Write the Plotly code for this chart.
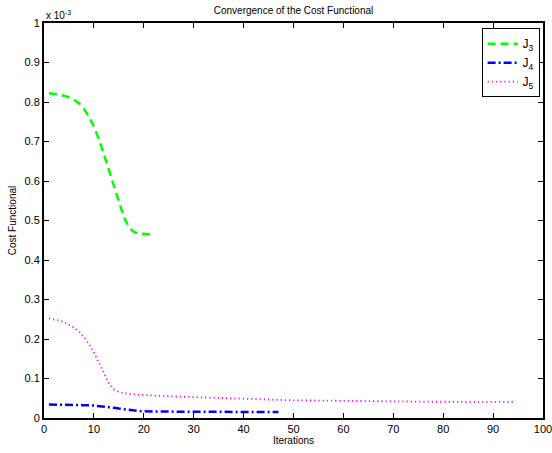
import plotly.graph_objects as go

# Values in units of 1e-3
iters_j3 = list(range(1, 23))
j3 = [0.822, 0.821, 0.819, 0.816, 0.812, 0.806, 0.797, 0.783, 0.763, 0.738, 0.706,
      0.668, 0.627, 0.585, 0.545, 0.509, 0.484, 0.471, 0.467, 0.466, 0.465, 0.465]

iters_j4 = list(range(1, 48))
j4 = [0.034, 0.034, 0.034, 0.0338, 0.0336, 0.0334, 0.0331, 0.0327, 0.0322, 0.0315,
      0.0305, 0.0292, 0.0276, 0.0258, 0.0238, 0.0218, 0.0200, 0.0186, 0.0176, 0.0170,
      0.0166, 0.0164, 0.0162, 0.0161, 0.0160, 0.0159, 0.0159, 0.0158, 0.0158, 0.0157,
      0.0157, 0.0156, 0.0156, 0.0156, 0.0155, 0.0155, 0.0155, 0.0154, 0.0154, 0.0154,
      0.0153, 0.0153, 0.0153, 0.0153, 0.0152, 0.0152, 0.0152]

iters_j5 = list(range(1, 95))
j5 = [0.252, 0.250, 0.247, 0.243, 0.237, 0.229, 0.219, 0.205, 0.188, 0.166,
      0.140, 0.112, 0.088, 0.073, 0.066, 0.063, 0.061, 0.060, 0.059, 0.058,
      0.057, 0.0565, 0.056, 0.0555, 0.055, 0.0545, 0.054, 0.0535, 0.053, 0.0525,
      0.052, 0.0515, 0.051, 0.0505, 0.050, 0.0496, 0.0492, 0.0488, 0.0484, 0.048,
      0.0476, 0.0472, 0.0469, 0.0466, 0.0463, 0.046, 0.0457, 0.0454, 0.0451, 0.0448,
      0.0446, 0.0444, 0.0442, 0.044, 0.0438, 0.0436, 0.0434, 0.0432, 0.043, 0.0429,
      0.0428, 0.0427, 0.0426, 0.0425, 0.0424, 0.0423, 0.0422, 0.0421, 0.042, 0.0419,
      0.0418, 0.0417, 0.0416, 0.0415, 0.0414, 0.0413, 0.0412, 0.0412, 0.0411, 0.0411,
      0.041, 0.041, 0.0409, 0.0409, 0.0408, 0.0408, 0.0407, 0.0407, 0.0406, 0.0406,
      0.0406, 0.0405, 0.0405, 0.0405]

font = "Liberation Sans, Arial, sans-serif"

fig = go.Figure()
fig.add_trace(go.Scatter(x=iters_j3, y=j3, mode="lines", name="J<sub>3</sub>",
                         line=dict(color="#00FF00", width=2.5, dash="8px,5px")))
fig.add_trace(go.Scatter(x=iters_j4, y=j4, mode="lines", name="J<sub>4</sub>",
                         line=dict(color="#0000FF", width=2.5, dash="8px,3px,2px,3px")))
fig.add_trace(go.Scatter(x=iters_j5, y=j5, mode="lines", name="J<sub>5</sub>",
                         line=dict(color="#FF00FF", width=1.8, dash="1.2px,3px")))

axis_common = dict(showgrid=False, zeroline=False, showline=True, linecolor="black",
                   linewidth=2, mirror="ticks", ticks="inside", ticklen=5,
                   tickcolor="black", automargin=False, ticklabeloverflow="allow",
                   tickfont=dict(family=font, size=11, color="black"))

fig.update_layout(
    width=552, height=453,
    margin=dict(l=44, r=9, t=23, b=35),
    paper_bgcolor="white", plot_bgcolor="white",
    title=dict(text="Convergence of the Cost Functional", x=0.5, xanchor="center",
               xref="paper", y=0.985, yanchor="top",
               font=dict(family=font, size=10, color="black")),
    xaxis=dict(range=[0, 100], dtick=10, title=dict(text="Iterations", standoff=2,
               font=dict(family=font, size=10, color="black")), **axis_common),
    yaxis=dict(range=[0, 1], dtick=0.1, title=dict(text="Cost Functional", standoff=6,
               font=dict(family=font, size=10, color="black")), **axis_common),
    legend=dict(x=0.877, y=0.987, xanchor="left", yanchor="top",
                bordercolor="black", borderwidth=1, bgcolor="white",
                font=dict(family=font, size=12, color="black"),
                tracegroupgap=0, itemwidth=30),
    showlegend=True,
)

fig.add_annotation(text="x 10<sup>-3</sup>", xref="paper", yref="paper", x=0, y=1,
                   xanchor="left", yanchor="bottom", showarrow=False,
                   font=dict(family=font, size=10, color="black"))

fig.write_html("out.html")
